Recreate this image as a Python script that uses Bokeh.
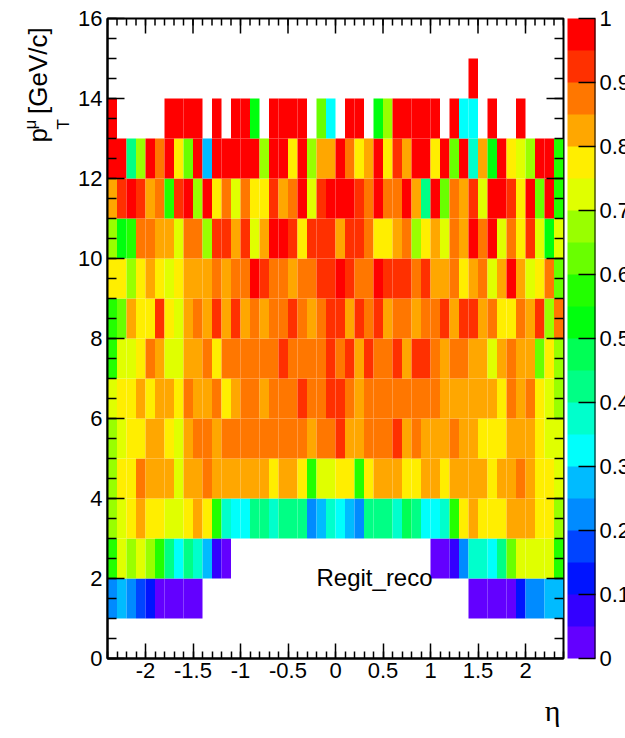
import math
from bokeh.plotting import figure
from bokeh.layouts import row
from bokeh.models import (ColumnDataSource, LinearColorMapper, ColorBar, FixedTicker,
                          Label, Span, Range1d, Title)
from bokeh.transform import transform
from bokeh.embed import file_html
from bokeh.resources import INLINE

# Binning: 48 eta bins of 0.1 between -2.4 and 2.4, pT bins of 1 GeV/c from 0 to 16
eta_lo, eta_hi, n_eta = -2.4, 2.4, 48
pt_edges = list(range(0, 17))
eta_edges = [round(eta_lo + 0.1 * i, 1) for i in range(n_eta + 1)]

N = None
# Efficiency per pT row (index = lower pT edge), one value per eta bin
eff_pt0 = [N] * 48
eff_pt1 = [.23, .28, .23, .18, .13, .03, .03, .03, .03, .03] + [N] * 28 + \
          [.03, .03, .03, .03, .03, .13, .23, .23, .28, .28]
eff_pt2 = [.58, .73, .68, .73, .68, .58, .43, .33, .43, .38, .28, .08, .03] + [N] * 21 + \
          [.03, .03, .08, .23, .38, .38, .33, .43, .63, .73, .73, .73, .73, .58]
eff_pt3 = [.68, .73, .78, .83, .78, .78, .73, .73, .78, .83, .78, .58, .38, .33, .33, .43,
           .43, .38, .43, .43, .43, .23, .28, .38, .33, .28, .23, .43, .43, .43, .38, .48,
           .43, .33, .33, .38, .58, .78, .83, .78, .78, .78, .83, .83, .83, .78, .78, .68]
eff_pt4 = [.68, .78, .78, .87, .83, .83, .83, .73, .83, .83, .87, .83, .83, .83, .83, .83,
           .83, .78, .83, .83, .78, .58, .73, .73, .78, .78, .58, .78, .83, .83, .83, .78,
           .78, .83, .83, .78, .83, .83, .83, .83, .78, .83, .83, .87, .83, .78, .78, .73]
eff_pt5 = [.68, .73, .78, .78, .83, .83, .78, .73, .83, .87, .87, .83, .87, .87, .87, .87,
           .87, .87, .87, .87, .87, .83, .87, .87, .93, .83, .83, .87, .87, .87, .93, .83,
           .87, .83, .83, .83, .87, .83, .83, .78, .78, .78, .83, .83, .83, .78, .73, .73]
eff_pt6 = [.73, .78, .78, .83, .78, .83, .83, .78, .87, .83, .83, .87, .78, .83, .87, .87,
           .83, .87, .87, .87, .93, .87, .87, .93, .93, .87, .83, .87, .87, .87, .87, .87,
           .87, .87, .87, .83, .83, .83, .83, .83, .83, .78, .87, .83, .87, .78, .73, .68]
eff_pt7 = [.58, .73, .73, .78, .87, .83, .73, .73, .83, .83, .87, .78, .87, .87, .87, .87,
           .87, .87, .93, .87, .87, .87, .87, .93, .87, .93, .83, .93, .87, .87, .93, .83,
           .93, .93, .87, .83, .87, .87, .83, .83, .73, .83, .87, .83, .83, .63, .78, .68]
eff_pt8 = [.58, .63, .83, .78, .78, .93, .78, .73, .83, .87, .83, .93, .83, .93, .83, .87,
           .83, .87, .87, .93, .87, .83, .87, .93, .93, .83, .93, .87, .93, .83, .87, .87,
           .83, .87, .87, .93, .83, .93, .93, .83, .87, .78, .78, .87, .83, .93, .68, .87]
eff_pt9 = [.78, .78, .68, .78, .83, .78, .73, .78, .83, .83, .83, .87, .83, .87, .87, .98,
           .93, .87, .87, .83, .87, .87, .93, .93, .98, .93, .87, .87, .98, .93, .93, .93,
           .87, .93, .83, .83, .87, .78, .83, .87, .73, .83, .98, .83, .73, .78, .87, .63]
eff_pt10 = [.68, .53, .58, .87, .87, .83, .83, .73, .87, .87, .68, .93, .93, .83, .93, .73,
            .83, .98, .98, .93, .78, .93, .93, .93, .83, .93, .93, .87, .78, .78, .83, .87,
            .68, .78, .83, .73, .87, .83, .98, .87, .98, .73, .87, .78, .93, .73, .53, .73]
eff_pt11 = [.83, .93, .98, .93, .83, .87, .58, .93, .98, .68, .98, .78, .87, .73, .87, .78,
            .78, .93, .83, .87, .98, .73, .93, .98, .98, .98, .93, .87, .98, .87, .87, .98,
            .83, .43, .98, .63, .87, .83, .93, .73, .98, .98, .93, .78, .98, .63, .98, .58]
eff_pt12 = [.98, .98, .43, .68, .98, .87, .98, .78, .63, .98, .28, .98, .98, .98, .98, .98,
            .68, .98, .98, .78, .98, .68, .83, .83, .98, .87, .78, .83, .98, .78, .93, .83,
            .98, .98, .78, .98, .63, .98, .38, .83, .53, .98, .78, .73, .68, .98, .98, .58]
eff_pt13 = [.98, N, N, N, N, N, .98, .98, .98, .98, N, .98, N, .98, .98, .53,
            N, .98, .98, .98, .98, N, .63, .33, N, .98, .98, N, .53, .68, .98, .98,
            .98, .98, .98, N, .98, .33, .33, N, .98, N, N, .98, N, N, N, N]
eff_pt14 = [N] * 38 + [.98] + [N] * 9
eff_pt15 = [N] * 48

eff_rows = [eff_pt0, eff_pt1, eff_pt2, eff_pt3, eff_pt4, eff_pt5, eff_pt6, eff_pt7,
            eff_pt8, eff_pt9, eff_pt10, eff_pt11, eff_pt12, eff_pt13, eff_pt14, eff_pt15]

# Axis ticks and labels
x_major = [-2.0, -1.5, -1.0, -0.5, 0.0, 0.5, 1.0, 1.5, 2.0]
x_labels = ["-2", "-1.5", "-1", "-0.5", "0", "0.5", "1", "1.5", "2"]
x_minor = [round(-2.4 + 0.1 * i, 1) for i in range(49)]
y_major = [0, 2, 4, 6, 8, 10, 12, 14, 16]
y_minor = [0.5 * i for i in range(33)]
z_major = [0.0, 0.1, 0.2, 0.3, 0.4, 0.5, 0.6, 0.7, 0.8, 0.9, 1.0]
z_labels = ["0", "0.1", "0.2", "0.3", "0.4", "0.5", "0.6", "0.7", "0.8", "0.9", "1"]

# ROOT "pretty" palette sampled at 20 contour levels
palette = ["#6300ff", "#3300ff", "#0014ff", "#0044ff", "#008bff", "#00bbff", "#00fffc",
           "#00ffcc", "#00ff85", "#00ff55", "#00ff0e", "#22ff00", "#69ff00", "#99ff00",
           "#e0ff00", "#ffee00", "#ffa700", "#ff7700", "#ff3000", "#ff0000"]

left, right, bottom, top, val = [], [], [], [], []
for j, eff in enumerate(eff_rows):
    for i, v in enumerate(eff):
        if v is None:
            continue
        left.append(eta_edges[i])
        right.append(eta_edges[i + 1])
        bottom.append(pt_edges[j])
        top.append(pt_edges[j + 1])
        val.append(v)
src = ColumnDataSource(dict(left=left, right=right, bottom=bottom, top=top, val=val))

mapper = LinearColorMapper(palette=palette, low=0.0, high=1.0)

FONT = "Liberation Sans"
FRAME_W, FRAME_H = 456, 640
TITLE_W = 72

# Strip holding the rotated y title p_T^mu [GeV/c]; its canvas is one big frame in pixels
lf = figure(width=TITLE_W, height=738, x_range=Range1d(0, TITLE_W), y_range=Range1d(738, 0),
            output_backend="svg", toolbar_location=None, x_axis_type=None, y_axis_type=None,
            min_border=0)
lf.outline_line_color = None
lf.grid.visible = False
for txt, xx, yy, size in [("p", 37, 143, "26px"),
                          ("T", 63, 128, "17px"),
                          ("\u03bc", 30, 128, "17px"),
                          ("[GeV/c]", 37, 110, "26px")]:
    lf.add_layout(Label(x=xx, y=yy, text=txt, angle=math.pi / 2, text_font=FONT,
                        text_font_size=size, text_color="black",
                        text_align="left", text_baseline="alphabetic"))

# Main 2D efficiency map
p = figure(width=566 - TITLE_W, height=738, x_range=Range1d(eta_lo, eta_hi),
           y_range=Range1d(0, 16), output_backend="svg", toolbar_location=None,
           min_border_left=107 - TITLE_W, min_border_right=3, min_border_top=18,
           min_border_bottom=80)
p.grid.visible = False
p.outline_line_color = "black"
p.outline_line_width = 2
p.background_fill_color = "white"
p.border_fill_color = "white"

p.quad(left="left", right="right", bottom="bottom", top="top", source=src,
       fill_color=transform("val", mapper), line_color=None)


def style_axis(ax, ticks, minor, maj_len, min_len):
    ax.ticker = FixedTicker(ticks=ticks, minor_ticks=minor)
    ax.major_tick_in = maj_len
    ax.major_tick_out = 0
    ax.minor_tick_in = min_len
    ax.minor_tick_out = 0
    ax.axis_line_width = 2
    ax.axis_line_color = "black"
    ax.major_tick_line_width = 1.5
    ax.minor_tick_line_width = 1.5
    ax.major_label_text_font = FONT
    ax.major_label_text_font_size = "22px"
    ax.major_label_text_color = "black"


style_axis(p.xaxis[0], x_major, x_minor, 15, 7)
p.xaxis[0].major_label_overrides = dict(zip(x_major, x_labels))
p.xaxis[0].major_label_standoff = 4
style_axis(p.yaxis[0], y_major, y_minor, 17, 9)
p.yaxis[0].major_label_standoff = 5

# eta title, right-aligned under the x axis
p.add_layout(Title(text="\u03b7", align="right", offset=3, standoff=23,
                   text_font="Liberation Serif", text_font_size="30px",
                   text_font_style="normal", text_color="black"), "below")

# Mirrored tick marks on the top and right frame edges (lengths in pixels -> data units)
px_x = (eta_hi - eta_lo) / FRAME_W
px_y = 16.0 / FRAME_H
p.segment(x0=x_major, x1=x_major, y0=[16] * len(x_major),
          y1=[16 - 15 * px_y] * len(x_major), line_color="black", line_width=1.5)
p.segment(x0=x_minor, x1=x_minor, y0=[16] * len(x_minor),
          y1=[16 - 7 * px_y] * len(x_minor), line_color="black", line_width=1.5)
p.segment(x0=[eta_hi] * len(y_major), x1=[eta_hi - 17 * px_x] * len(y_major),
          y0=y_major, y1=y_major, line_color="black", line_width=1.5)
p.segment(x0=[eta_hi] * len(y_minor), x1=[eta_hi - 9 * px_x] * len(y_minor),
          y0=y_minor, y1=y_minor, line_color="black", line_width=1.5)

p.add_layout(Label(x=-0.2, y=2.02, text="Regit_reco", text_font=FONT,
                   text_font_size="24px", text_color="black",
                   text_align="left", text_baseline="alphabetic"))

# Palette axis
cb = figure(width=59, height=738, x_range=Range1d(0, 1), y_range=Range1d(0, 1),
            output_backend="svg", toolbar_location=None,
            x_axis_type=None, y_axis_type=None,
            min_border_left=1, min_border_right=30, min_border_top=18, min_border_bottom=80)
cb.outline_line_color = None
cb.grid.visible = False
cb.border_fill_color = "white"
color_bar = ColorBar(color_mapper=mapper, location="top_left", margin=0, padding=0,
                     width=28, height=640,
                     ticker=FixedTicker(ticks=z_major),
                     major_label_overrides=dict(zip(z_major, z_labels)),
                     major_tick_in=17, major_tick_out=0,
                     major_tick_line_color="black", major_tick_line_width=1.5,
                     minor_tick_line_color=None,
                     label_standoff=4,
                     major_label_text_font=FONT, major_label_text_font_size="22px",
                     major_label_text_color="black",
                     bar_line_color=None, border_line_color=None,
                     background_fill_color=None)
cb.add_layout(color_bar, "center")
cb.add_layout(Span(location=1, dimension="height", line_color="black", line_width=2))

layout = row(lf, p, cb)
open("out.html", "w").write(file_html(layout, INLINE))
